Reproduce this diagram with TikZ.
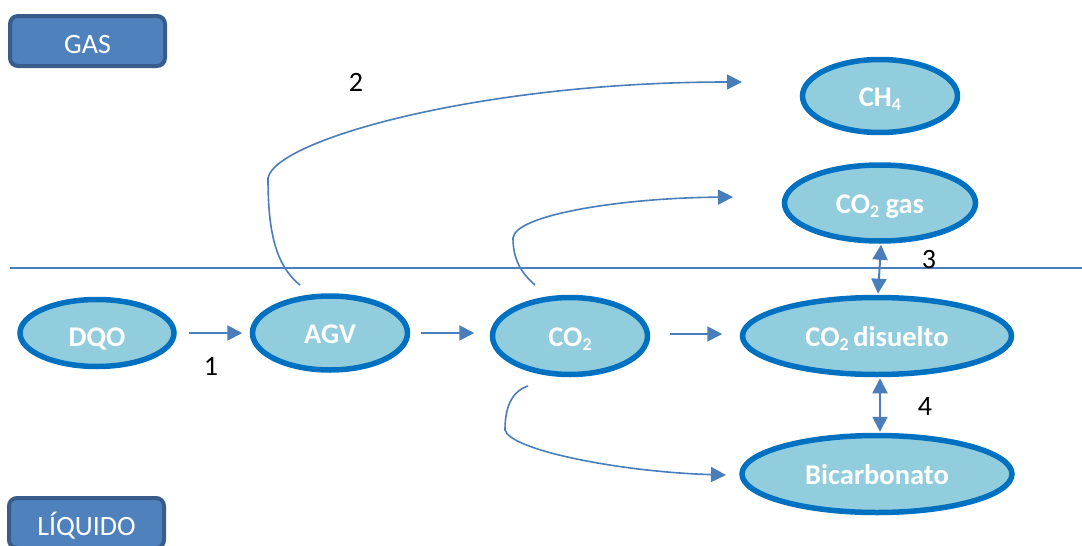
\documentclass[tikz,border=0pt]{standalone}
\usepackage{fontspec}
\setmainfont{Carlito}
\usetikzlibrary{shapes.geometric,arrows.meta}
\definecolor{lineblue}{RGB}{74,126,187}
\definecolor{ellfill}{RGB}{146,205,221}
\definecolor{elldraw}{RGB}{0,112,192}
\definecolor{boxfill}{RGB}{79,129,189}
\definecolor{boxdraw}{RGB}{56,93,138}
\newcommand{\chemsub}[1]{\raisebox{-3.5pt}{\fontsize{18}{18}\selectfont #1}}
\begin{document}
\begin{tikzpicture}[x=1pt,y=-1pt,
  proc/.style={ellipse, draw=elldraw, fill=ellfill, line width=5.5pt, inner sep=0pt,
    text=white, font=\fontsize{28.5}{30}\selectfont\bfseries, text height=21pt, text depth=0pt},
  phase/.style={rectangle, rounded corners=8pt, draw=boxdraw, fill=boxfill, line width=4pt,
    text=white, font=\fontsize{28}{30}\selectfont, minimum width=155pt, minimum height=50pt,
    inner sep=0pt, text height=25pt, text depth=0pt},
  flow/.style={draw=lineblue, line width=2pt, -{Triangle[length=15pt,width=15pt]}},
  flowc/.style={draw=lineblue, line width=1.6pt, -{Triangle[length=15pt,width=15pt]}},
  eqflow/.style={draw=lineblue, line width=2pt, {Triangle[length=15pt,width=15pt]}-{Triangle[length=15pt,width=15pt]}},
  num/.style={font=\fontsize{28}{30}\selectfont, text=black, inner sep=0pt}
]
\useasboundingbox (0,0) rectangle (1082,546);

% phase boxes
\node[phase] (gas) at (87.5,41) {GAS};
\node[phase] (liq) at (86.5,523) {LÍQUIDO};

% interface line
\coordinate (lineL) at (10,268);
\coordinate (lineR) at (1082,268);
\draw[lineblue, line width=2pt] (lineL) -- (lineR);

% species
\node[proc, minimum width=154pt, minimum height=67pt, text height=27pt] (dqo) at (97,333) {DQO};
\node[proc, minimum width=155pt, minimum height=74pt] (agv) at (330,333) {AGV};
\node[proc, minimum width=155pt, minimum height=77pt] (co2) at (570,336) {CO\chemsub{2}};
\node[proc, minimum width=269pt, minimum height=77pt] (dis) at (877,336) {CO\chemsub{2}\,disuelto};
\node[proc, minimum width=270pt, minimum height=77pt] (bic) at (877,474) {Bicarbonato};
\node[proc, minimum width=191pt, minimum height=76pt] (co2g) at (880,203) {CO\chemsub{2} gas};
\node[proc, minimum width=155pt, minimum height=73pt] (ch4) at (880,96) {CH\chemsub{4}};

% straight arrows
\draw[flow, shorten <=12.5pt, shorten >=7.5pt] (dqo.east) -- (agv.west);
\draw[flow, shorten <=10.5pt, shorten >=15.5pt] (agv.east) -- ([yshift=3pt]co2.west);
\draw[flow, shorten <=19.5pt, shorten >=17.5pt] ([yshift=2pt]co2.east) -- ([yshift=2pt]dis.west);
\draw[eqflow] ([xshift=1pt,yshift=-1pt]co2g.south) -- ([xshift=1pt,yshift=1pt]dis.north);
\draw[eqflow] ([xshift=3pt,yshift=-1pt]dis.south) -- ([xshift=3pt,yshift=1pt]bic.north);

% curved arrows
\coordinate (s2) at (300,285);
\coordinate (e2) at (742,82);
\draw[flowc] (s2) .. controls (275,265) and (268,230) .. (268,178)
  .. controls (275,140) and (480,82) .. (e2);

\coordinate (sg) at (535,285);
\coordinate (eg) at (733,197);
\draw[flowc] (sg) .. controls (520,272) and (513,258) .. (513,238)
  .. controls (515,215) and (620,198) .. (eg);

\coordinate (sb) at (528,386);
\coordinate (eb) at (726,475);
\draw[flowc] (sb) .. controls (510,392) and (505,410) .. (505,430)
  .. controls (510,450) and (620,472) .. (eb);

% step numbers
\node[num] (n1) at (211,366) {1};
\node[num] (n2) at (356,82) {2};
\node[num] (n3) at (929,260) {3};
\node[num] (n4) at (925,407) {4};
\end{tikzpicture}
\end{document}
